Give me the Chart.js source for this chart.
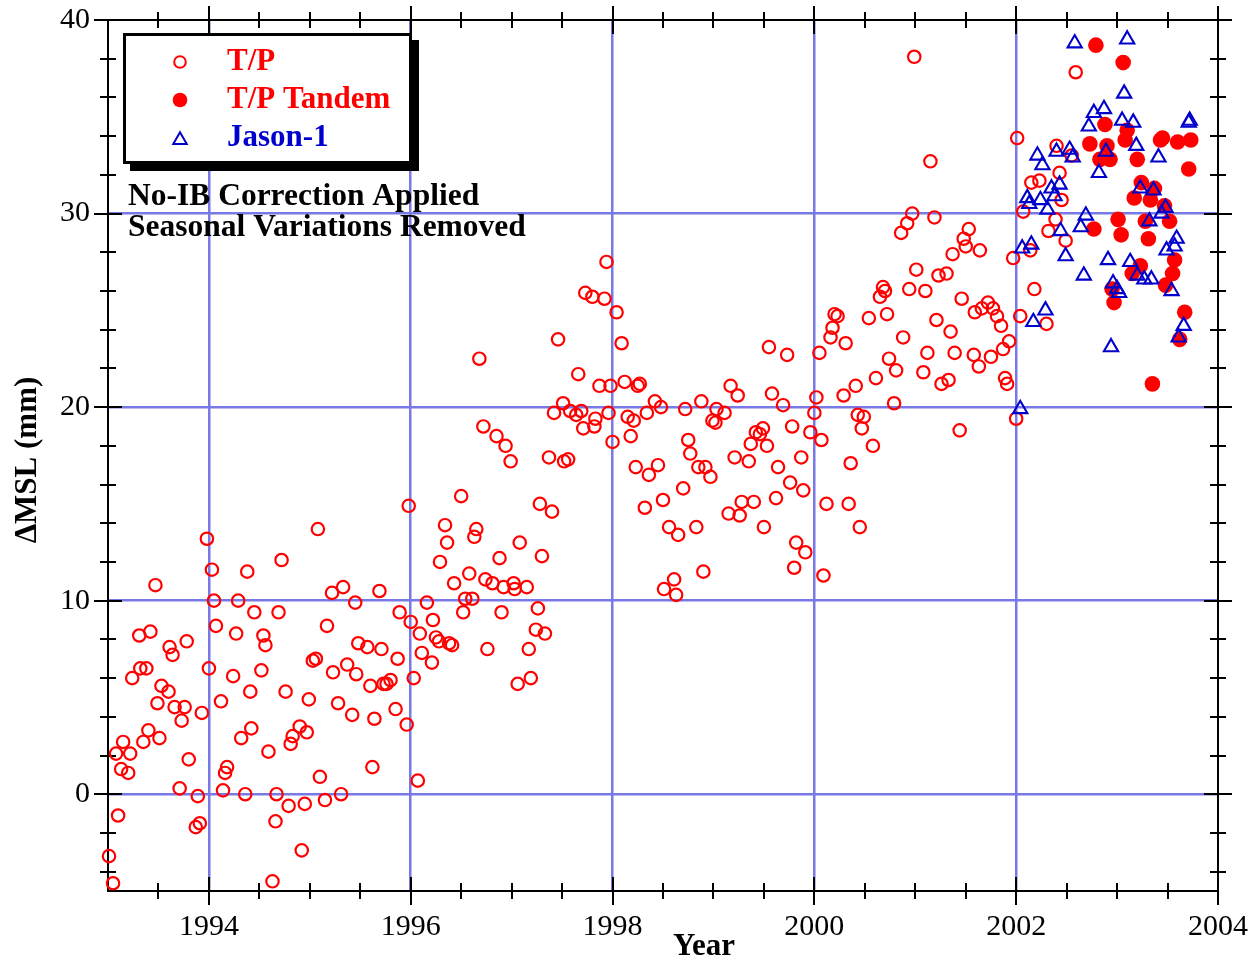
<!DOCTYPE html>
<html>
<head>
<meta charset="utf-8">
<title>Mean sea level change, T/P and Jason-1</title>
<script src="https://cdn.jsdelivr.net/npm/chart.js@4.4.1/dist/chart.umd.min.js"></script>
<style>
  html, body { margin: 0; padding: 0; background: #ffffff; }
  canvas { display: block; }
</style>
</head>
<body>
<canvas id="msl" width="1251" height="962" style="width:1251px;height:962px"></canvas>
<script>
// Axis tick labels
const xTickLabels = [1994, 1996, 1998, 2000, 2002, 2004];
const yTickLabels = [0, 10, 20, 30, 40];

// TOPEX/Poseidon, ~10-day cycles: time (year) and ΔMSL (mm)
const tpYears = [
  1993.01,1993.05,1993.08,1993.10,1993.13,1993.15,1993.20,1993.22,1993.24,1993.31,
  1993.32,1993.35,1993.38,1993.40,1993.42,1993.47,1993.49,1993.51,1993.53,1993.60,
  1993.61,1993.64,1993.66,1993.71,1993.73,1993.76,1993.78,1993.80,1993.87,1993.89,
  1993.91,1993.93,1993.98,1994.00,1994.03,1994.05,1994.07,1994.12,1994.14,1994.16,
  1994.18,1994.24,1994.27,1994.29,1994.32,1994.36,1994.38,1994.41,1994.42,1994.45,
  1994.52,1994.54,1994.56,1994.59,1994.63,1994.66,1994.67,1994.69,1994.72,1994.76,
  1994.79,1994.81,1994.83,1994.90,1994.92,1994.95,1994.97,1994.99,1995.03,1995.06,
  1995.08,1995.10,1995.15,1995.17,1995.22,1995.23,1995.28,1995.31,1995.33,1995.37,
  1995.42,1995.45,1995.46,1995.48,1995.57,1995.60,1995.62,1995.64,1995.69,1995.71,
  1995.73,1995.76,1995.80,1995.85,1995.87,1995.89,1995.96,1995.98,1996.00,1996.03,
  1996.07,1996.09,1996.11,1996.16,1996.21,1996.22,1996.25,1996.28,1996.29,1996.34,
  1996.36,1996.38,1996.41,1996.43,1996.50,1996.52,1996.54,1996.58,1996.61,1996.63,
  1996.65,1996.68,1996.72,1996.74,1996.76,1996.81,1996.85,1996.88,1996.90,1996.92,
  1996.94,1996.99,1997.02,1997.03,1997.06,1997.08,1997.15,1997.17,1997.19,1997.24,
  1997.26,1997.28,1997.30,1997.33,1997.37,1997.40,1997.42,1997.46,1997.51,1997.52,
  1997.56,1997.58,1997.64,1997.66,1997.69,1997.71,1997.73,1997.80,1997.82,1997.83,
  1997.87,1997.92,1997.94,1997.96,1997.98,1998.00,1998.04,1998.09,1998.12,1998.15,
  1998.18,1998.21,1998.23,1998.25,1998.27,1998.32,1998.34,1998.36,1998.42,1998.45,
  1998.48,1998.50,1998.51,1998.56,1998.61,1998.63,1998.65,1998.70,1998.72,1998.75,
  1998.77,1998.83,1998.85,1998.88,1998.90,1998.92,1998.97,1998.99,1999.02,1999.03,
  1999.11,1999.15,1999.17,1999.21,1999.24,1999.26,1999.28,1999.35,1999.37,1999.40,
  1999.42,1999.46,1999.49,1999.50,1999.53,1999.55,1999.58,1999.62,1999.64,1999.69,
  1999.73,1999.76,1999.78,1999.80,1999.82,1999.87,1999.89,1999.91,1999.96,2000.00,
  2000.02,2000.05,2000.07,2000.09,2000.12,2000.16,2000.18,2000.20,2000.23,2000.29,
  2000.31,2000.34,2000.36,2000.41,2000.43,2000.45,2000.47,2000.49,2000.54,2000.58,
  2000.61,2000.65,2000.68,2000.70,2000.72,2000.74,2000.79,2000.81,2000.86,2000.88,
  2000.92,2000.94,2000.97,2000.99,2001.01,2001.08,2001.10,2001.12,2001.15,2001.19,
  2001.21,2001.23,2001.26,2001.31,2001.33,2001.35,2001.37,2001.39,2001.44,2001.46,
  2001.48,2001.50,2001.53,2001.58,2001.59,2001.63,2001.64,2001.66,2001.72,2001.75,
  2001.77,2001.81,2001.85,2001.87,2001.89,2001.91,2001.93,2001.97,2002.00,2002.01,
  2002.04,2002.07,2002.14,2002.15,2002.18,2002.23,2002.30,2002.32,2002.39,2002.40,
  2002.43,2002.45,2002.49,2002.55,2002.59
];
const tpValues = [
  -3.2,-4.6,2.1,-1.1,1.3,2.7,1.1,2.1,6.0,8.2,
  6.5,2.7,6.5,3.3,8.4,10.8,4.7,2.9,5.6,5.3,
  7.6,7.2,4.5,0.3,3.8,4.5,7.9,1.8,-1.7,-0.1,
  -1.5,4.2,13.2,6.5,11.6,10.0,8.7,4.8,0.2,1.1,
  1.4,6.1,8.3,10.0,2.9,0.0,11.5,5.3,3.4,9.4,
  6.4,8.2,7.7,2.2,-4.5,-1.4,0.0,9.4,12.1,5.3,
  -0.6,2.6,3.0,3.5,-2.9,-0.5,3.2,4.9,6.9,7.0,
  13.7,0.9,-0.3,8.7,10.4,6.3,4.7,0.0,10.7,6.7,
  4.1,9.9,6.2,7.8,7.6,5.6,1.4,3.9,10.5,7.5,
  5.7,5.7,5.9,4.4,7.0,9.4,3.6,14.9,8.9,6.0,
  0.7,8.3,7.3,9.9,6.8,9.0,8.1,7.9,12.0,13.9,
  13.0,7.8,7.7,10.9,15.4,9.4,10.1,11.4,10.1,13.3,
  13.7,22.5,19.0,11.1,7.5,10.9,18.5,12.2,9.4,10.7,
  18.0,17.2,10.9,10.6,5.7,13.0,10.7,7.5,6.0,8.5,
  9.6,15.0,12.3,8.3,17.4,14.6,19.7,23.5,20.2,17.2,
  17.3,19.8,19.6,21.7,19.8,18.9,25.9,25.7,19.0,19.4,
  21.1,25.6,27.5,19.7,21.1,18.2,24.9,23.3,21.3,19.5,
  18.5,19.3,16.9,21.1,21.2,14.8,19.7,16.5,20.3,17.0,
  20.0,15.2,10.6,13.8,11.1,10.3,13.4,15.8,19.9,18.3,
  17.6,13.8,16.9,20.3,11.5,16.9,16.4,19.3,19.2,19.9,
  19.7,14.5,21.1,17.4,20.6,14.4,15.1,17.2,18.1,15.1,
  18.7,18.6,18.9,13.8,18.0,23.1,20.7,15.3,16.9,20.1,
  22.7,16.1,19.0,11.7,13.0,17.4,15.7,12.5,18.7,19.7,
  20.5,22.8,18.3,11.3,15.0,23.6,24.1,24.8,24.7,20.6,
  23.3,15.0,17.1,21.1,19.6,13.8,18.9,19.5,24.6,18.0,
  21.5,25.7,26.2,26.0,24.8,22.5,20.2,21.9,29.0,23.6,
  29.5,26.1,30.0,38.1,27.1,21.8,26.0,22.8,32.7,29.8,
  24.5,26.8,21.2,26.9,21.4,23.9,27.9,22.8,18.8,25.6,
  28.7,28.3,29.2,22.7,24.9,22.1,28.1,25.1,25.4,22.6,
  25.1,24.7,24.2,23.0,21.5,21.2,23.4,27.7,19.4,33.9,
  24.7,30.1,28.1,31.6,26.1,31.7,24.3,29.1,29.7,33.5,
  32.1,30.7,28.6,33.0,37.3
];

// T/P in its tandem-mission orbit
const tandemYears = [
  2002.73,2002.77,2002.79,2002.83,2002.88,2002.90,2002.93,2002.95,2002.97,2003.01,
  2003.04,2003.06,2003.08,2003.10,2003.15,2003.17,2003.20,2003.23,2003.24,2003.28,
  2003.31,2003.33,2003.35,2003.37,2003.43,2003.45,2003.47,2003.48,2003.52,2003.55,
  2003.57,2003.60,2003.62,2003.67,2003.71,2003.73
];
const tandemValues = [
  33.6,29.2,38.7,32.8,34.6,33.5,32.8,26.1,25.4,29.7,
  28.9,37.8,33.8,34.3,26.9,30.8,32.8,27.3,31.6,29.6,
  28.7,30.7,21.2,31.3,33.8,33.9,30.4,26.3,29.6,26.9,
  27.6,33.7,23.5,24.9,32.3,33.8
];

// Jason-1
const jasonYears = [
  2002.04,2002.06,2002.11,2002.13,2002.15,2002.17,2002.21,2002.24,2002.26,2002.29,
  2002.31,2002.35,2002.38,2002.40,2002.43,2002.44,2002.49,2002.53,2002.56,2002.58,
  2002.64,2002.67,2002.69,2002.72,2002.77,2002.82,2002.87,2002.89,2002.91,2002.94,
  2002.96,2003.00,2003.02,2003.05,2003.07,2003.10,2003.13,2003.16,2003.19,2003.20,
  2003.23,2003.27,2003.32,2003.34,2003.36,2003.41,2003.44,2003.48,2003.49,2003.54,
  2003.57,2003.59,2003.61,2003.66,2003.71,2003.72
];
const jasonValues = [
  19.9,28.2,30.8,30.5,28.4,24.4,33.0,30.7,32.5,25.0,
  30.2,31.3,30.9,33.2,31.5,29.1,27.8,33.3,32.9,38.8,
  29.3,26.8,29.9,34.5,35.2,32.1,35.4,33.2,27.6,23.1,
  26.4,26.1,25.9,34.8,36.2,39.0,27.5,34.7,33.5,26.8,
  31.3,26.6,29.6,26.6,31.2,32.9,30.0,30.3,28.1,26.0,
  28.3,28.7,23.6,24.2,34.7,34.8
];

const RED = '#ff0000';
const BLUE = '#0000cc';
const GRID = 'rgb(120,120,230)';
const SERIF = '"Liberation Serif", "Times New Roman", Times, serif';

const pairs = (xs, ys) => xs.map((x, i) => ({ x: x, y: ys[i] }));

// Keep the plot box exactly where the layout padding puts it
function noLabelOverflow(s) {
  s.paddingLeft = 0; s.paddingRight = 0; s.paddingTop = 0; s.paddingBottom = 0;
}

// Frame, in/out tick marks on all four sides, key box and notes
const decorations = {
  id: 'decorations',
  beforeDatasetsDraw(chart) {
    const { ctx, chartArea: a, scales: { x, y } } = chart;
    ctx.save();
    ctx.strokeStyle = '#000';
    ctx.lineWidth = 2;
    ctx.strokeRect(a.left, a.top, a.right - a.left, a.bottom - a.top);
    ctx.beginPath();
    const vTick = (v, len) => {
      const p = Math.round(x.getPixelForValue(v));
      ctx.moveTo(p, a.bottom - len); ctx.lineTo(p, a.bottom + len);
      ctx.moveTo(p, a.top - len); ctx.lineTo(p, a.top + len);
    };
    const hTick = (v, len) => {
      const p = Math.round(y.getPixelForValue(v));
      ctx.moveTo(a.left - len, p); ctx.lineTo(a.left + len, p);
      ctx.moveTo(a.right - len, p); ctx.lineTo(a.right + len, p);
    };
    for (let v = 1993.5; v < 2004; v += 0.5) {
      vTick(v, xTickLabels.includes(v) ? 14 : 8);
    }
    for (let v = -4; v < 40; v += 2) {
      hTick(v, v % 10 === 0 ? 14 : 8);
    }
    hTick(40, 14);
    vTick(2004, 14);
    ctx.stroke();
    ctx.restore();
  },
  afterDatasetsDraw(chart) {
    const { ctx } = chart;
    ctx.save();
    // key box with drop shadow
    ctx.fillStyle = '#000';
    ctx.fillRect(130, 40, 289, 131);
    ctx.fillStyle = '#fff';
    ctx.fillRect(124.5, 34.5, 286, 128);
    ctx.strokeStyle = '#000';
    ctx.lineWidth = 3;
    ctx.strokeRect(124.5, 34.5, 286, 128);

    // key symbols
    ctx.lineWidth = 2;
    ctx.strokeStyle = RED;
    ctx.beginPath(); ctx.arc(180, 62, 5.8, 0, Math.PI * 2); ctx.stroke();
    ctx.fillStyle = RED;
    ctx.beginPath(); ctx.arc(180, 100, 7.3, 0, Math.PI * 2); ctx.fill();
    ctx.strokeStyle = BLUE;
    const r = 7.8, cx = 180, cy = 140;
    ctx.beginPath();
    ctx.moveTo(cx, cy - r);
    ctx.lineTo(cx + r * Math.sin(2 * Math.PI / 3), cy + r / 2);
    ctx.lineTo(cx - r * Math.sin(2 * Math.PI / 3), cy + r / 2);
    ctx.closePath();
    ctx.stroke();

    // key labels
    ctx.font = 'bold 31px ' + SERIF;
    ctx.textAlign = 'left';
    ctx.textBaseline = 'middle';
    ctx.fillStyle = RED;
    ctx.fillText('T/P', 227, 62);
    ctx.fillText('T/P Tandem', 227, 100);
    ctx.fillStyle = BLUE;
    ctx.fillText('Jason-1', 227, 138);

    // processing notes
    ctx.fillStyle = '#000';
    ctx.font = 'bold 31.5px ' + SERIF;
    ctx.fillText('No-IB Correction Applied', 128, 197);
    ctx.fillText('Seasonal Variations Removed', 128, 228);

    // axis titles
    ctx.font = 'bold 31px ' + SERIF;
    ctx.textAlign = 'center';
    ctx.fillText('Year', 704, 947);
    ctx.translate(28, 460);
    ctx.rotate(-Math.PI / 2);
    ctx.fillText('\u0394MSL (mm)', 0, 0);
    ctx.restore();
  }
};

new Chart(document.getElementById('msl'), {
  type: 'scatter',
  data: {
    datasets: [
      {
        label: 'Jason-1',
        data: pairs(jasonYears, jasonValues),
        pointStyle: 'triangle',
        pointRadius: 8.2,
        pointHoverRadius: 8.2,
        pointBorderWidth: 2.1,
        pointBorderColor: BLUE,
        pointBackgroundColor: 'rgba(0,0,0,0)',
        clip: false,
        order: 0
      },
      {
        label: 'T/P Tandem',
        data: pairs(tandemYears, tandemValues),
        pointStyle: 'circle',
        pointRadius: 7.8,
        pointHoverRadius: 7.8,
        pointBorderWidth: 0,
        pointBorderColor: RED,
        pointBackgroundColor: RED,
        clip: false,
        order: 1
      },
      {
        label: 'T/P',
        data: pairs(tpYears, tpValues),
        pointStyle: 'circle',
        pointRadius: 6.2,
        pointHoverRadius: 6.2,
        pointBorderWidth: 2.2,
        pointBorderColor: RED,
        pointBackgroundColor: 'rgba(0,0,0,0)',
        clip: false,
        order: 2
      }
    ]
  },
  options: {
    responsive: false,
    animation: false,
    devicePixelRatio: 1,
    events: [],
    layout: { padding: { left: 0, right: 33, top: 20, bottom: 0 } },
    plugins: { legend: { display: false }, tooltip: { enabled: false } },
    scales: {
      x: {
        type: 'linear',
        min: 1993,
        max: 2004,
        afterBuildTicks: (s) => { s.ticks = xTickLabels.map(v => ({ value: v })); },
        afterFit: (s) => { s.height = 71; noLabelOverflow(s); },
        border: { display: false },
        grid: {
          drawTicks: false,
          lineWidth: 2.5,
          color: (c) => (c.tick && c.tick.value === 2004) ? 'rgba(0,0,0,0)' : GRID
        },
        ticks: {
          autoSkip: false,
          maxRotation: 0,
          padding: 18,
          color: '#000',
          font: { family: SERIF, size: 30, lineHeight: 1.2 },
          callback: (v) => String(v)
        }
      },
      y: {
        type: 'linear',
        min: -5,
        max: 40,
        afterBuildTicks: (s) => { s.ticks = yTickLabels.map(v => ({ value: v })); },
        afterFit: (s) => { s.width = 108; noLabelOverflow(s); },
        border: { display: false },
        grid: {
          drawTicks: false,
          lineWidth: 2.5,
          color: (c) => (c.tick && c.tick.value === 40) ? 'rgba(0,0,0,0)' : GRID
        },
        ticks: {
          autoSkip: false,
          padding: 18,
          color: '#000',
          font: { family: SERIF, size: 30, lineHeight: 1.2 },
          callback: (v) => String(v)
        }
      }
    }
  },
  plugins: [decorations]
});
</script>
</body>
</html>
